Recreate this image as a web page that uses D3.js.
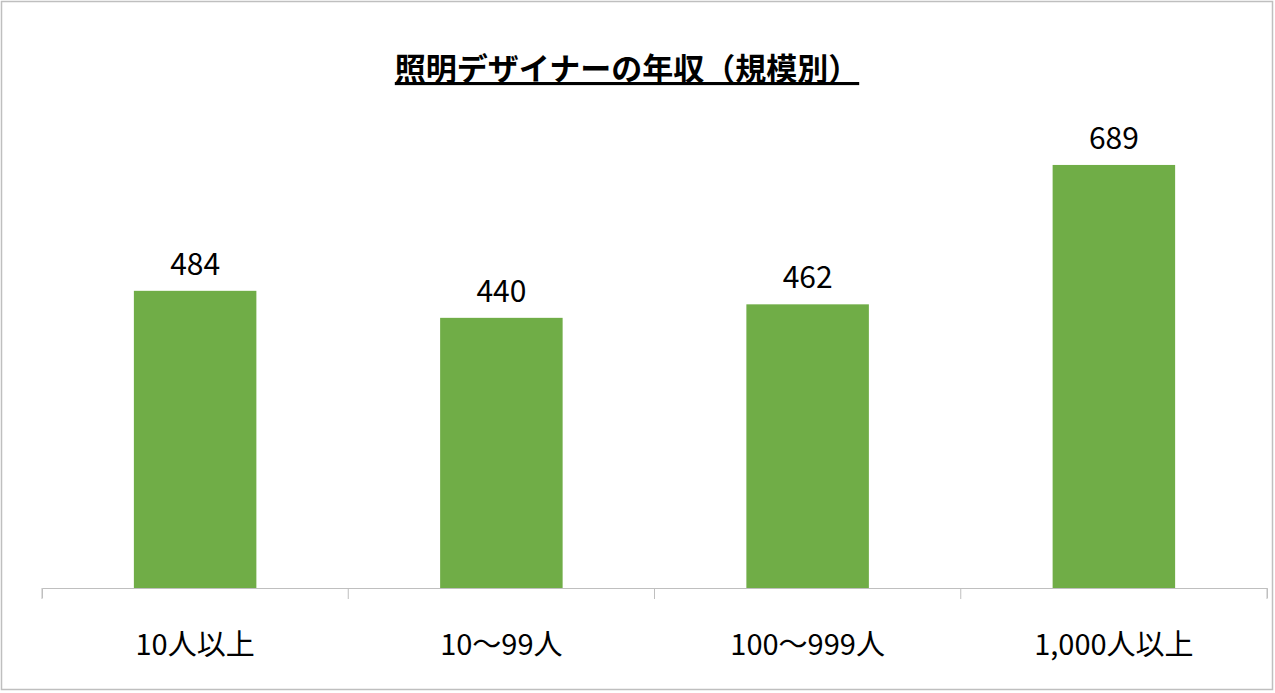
<!DOCTYPE html>
<html><head><meta charset="utf-8">
<script src="https://cdn.jsdelivr.net/npm/d3@7"></script>
<style>body{margin:0;background:#fff}</style>
</head><body>
<svg id="c" width="1275" height="693"></svg>
<script>
const categories = ["10人以上","10～99人","100～999人","1,000人以上"];
const values = [484,440,462,689];
const title = "照明デザイナーの年収（規模別）";

const svg = d3.select("#c");
const font = "'Noto Sans CJK JP','Noto Sans',sans-serif";
svg.append("rect").attr("x",1.5).attr("y",1.5).attr("width",1271).attr("height",688)
  .attr("fill","#fff").attr("stroke","#bfbfbf").attr("stroke-width",1.5);

const x = d3.scaleBand().domain(categories).range([42,1267]).paddingInner(0.6).paddingOuter(0.3);
const y = d3.scaleLinear().domain([0,800]).range([588,588-0.614*800]);

svg.selectAll(".bar").data(values).join("rect")
  .attr("x",(d,i)=>x(categories[i])).attr("width",x.bandwidth())
  .attr("y",d=>y(d)).attr("height",d=>y(0)-y(d)).attr("fill","#70ad47");

svg.selectAll(".lbl").data(values).join("text")
  .attr("x",(d,i)=>x(categories[i])+x.bandwidth()/2).attr("y",d=>y(d)-16)
  .attr("text-anchor","middle").attr("font-family",font).attr("font-size",30).text(d=>d);

const xa = d3.axisBottom(d3.scaleBand().domain(categories).range([42,1267])).tickSize(10).tickSizeOuter(10).tickFormat("");
const g = svg.append("g").attr("transform","translate(0,588)").call(xa);
g.selectAll(".tick line").remove();
g.select(".domain").attr("stroke","#bfbfbf");
const xb = d3.scaleBand().domain(categories).range([42,1267]);
[42,...categories.map(c=>xb(c)+xb.bandwidth())].forEach(px=>{
  svg.append("line").attr("x1",px).attr("x2",px).attr("y1",588).attr("y2",599).attr("stroke","#bfbfbf");
});
svg.selectAll(".cat").data(categories).join("text")
  .attr("x",d=>xb(d)+xb.bandwidth()/2).attr("y",655).attr("text-anchor","middle")
  .attr("font-family",font).attr("font-size",29).text(d=>d);

svg.append("text").attr("x",627).attr("y",80).attr("text-anchor","middle")
  .attr("font-family",font).attr("font-size",31).attr("font-weight","bold")
  .attr("text-decoration","underline").text(title);
</script>
</body></html>
